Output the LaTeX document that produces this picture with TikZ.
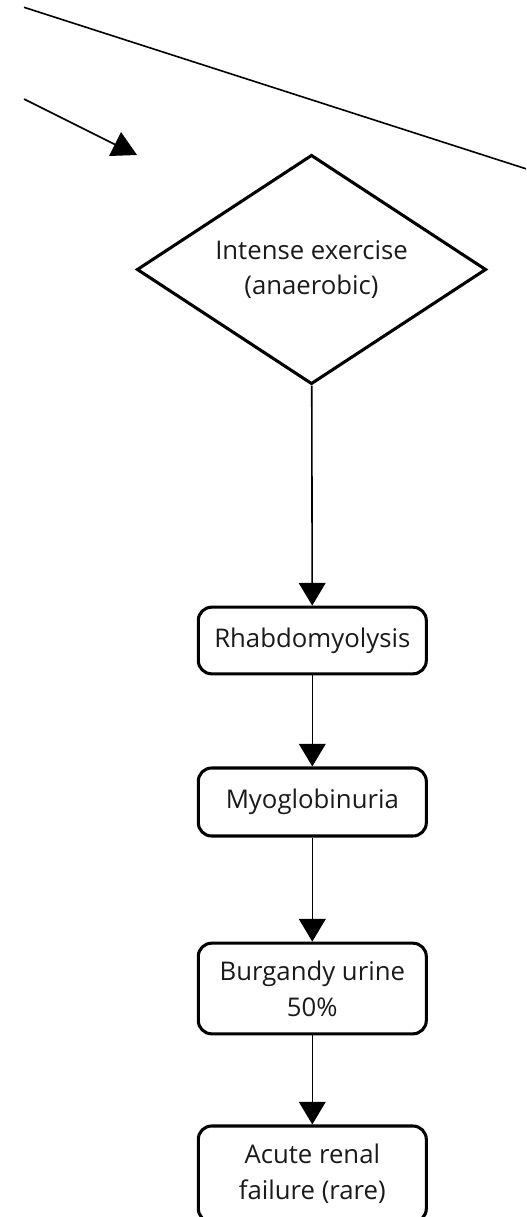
\documentclass[tikz,border=0pt]{standalone}
\usepackage{fontspec}
\setmainfont{Open Sans}
\usetikzlibrary{shapes.geometric,arrows.meta}
\definecolor{ink}{HTML}{1A1A1A}
\tikzset{
  conn/.style={line width=1.2pt, -{Triangle[width=20pt,length=17pt]}},
  plain/.style={line width=1.2pt},
  stepbox/.style={draw, line width=2.3pt, rounded corners=10pt, minimum width=171pt,
    align=center, text=ink, inner sep=0pt, font=\fontsize{19.3pt}{26.8pt}\selectfont},
  decide/.style={draw, diamond, aspect=1.515, line width=2.3pt, minimum width=262pt,
    minimum height=172pt, inner sep=0pt, align=center, text=ink,
    font=\fontsize{19.3pt}{26.8pt}\selectfont}
}
\begin{document}
\begin{tikzpicture}[x=0.75pt,y=-0.75pt]
\useasboundingbox (0,0) rectangle (526,1217);
% incoming lines from above
\coordinate (l1a) at (24,7.3);
\coordinate (l1b) at (526,168.8);
\draw[plain] (l1a) -- (l1b);
\coordinate (l2a) at (24,99);
\coordinate (l2b) at (118,146);
\draw[plain] (l2a) -- (l2b);
\fill (109,156) -- (137,155) -- (121,132) -- cycle;
% flow
\node[decide] (ex) at (311.5,269.5) {Intense exercise\\(anaerobic)};
\node[stepbox, minimum height=50pt] (rh) at (312.3,640.5) {Rhabdomyolysis};
\node[stepbox, minimum height=51pt] (my) at (312.3,802) {Myoglobinuria};
\node[stepbox, minimum height=68pt] (bu) at (312.3,988.5) {Burgandy urine\\50\%};
\node[stepbox, minimum height=72pt] (ar) at (312.3,1174) {Acute renal\\failure (rare)};
\draw[conn] (ex) -- (rh);
\draw[conn] (rh) -- (my);
\draw[conn] (my) -- (bu);
\draw[conn] (bu) -- (ar);
\end{tikzpicture}
\end{document}
